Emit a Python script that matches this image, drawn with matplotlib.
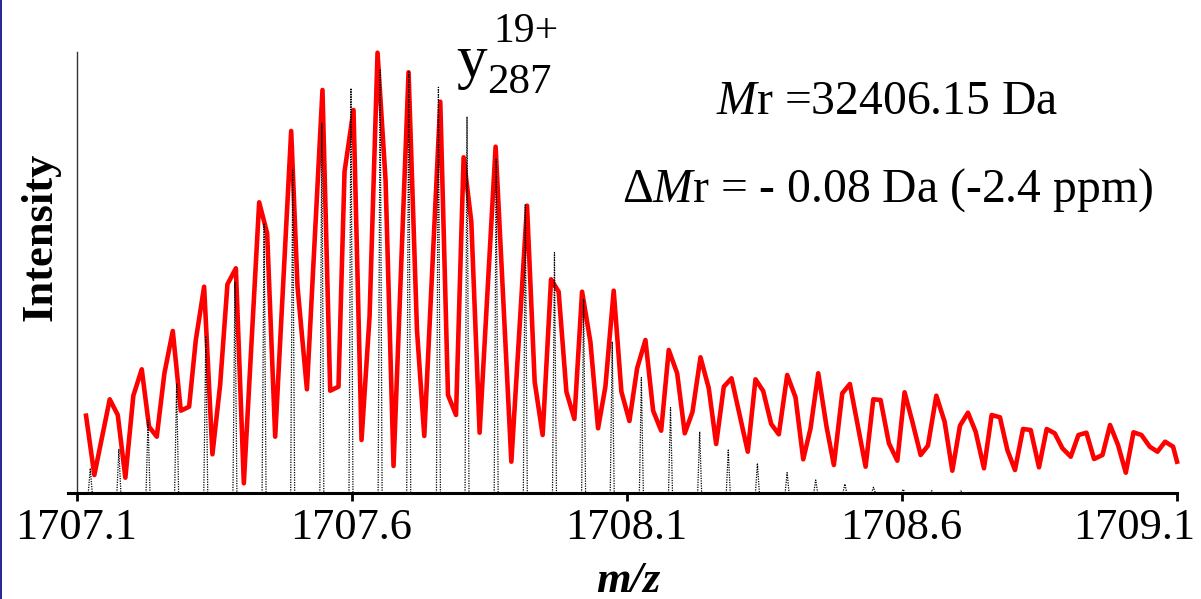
import matplotlib
matplotlib.use('Agg')
import matplotlib.pyplot as plt
from matplotlib.lines import Line2D
import matplotlib.transforms as mtransforms

plt.rcParams['font.family'] = ['Liberation Serif', 'DejaVu Serif']
plt.rcParams['mathtext.fontset'] = 'custom'
plt.rcParams['mathtext.rm'] = 'Liberation Serif'
plt.rcParams['mathtext.it'] = 'Liberation Serif:italic'
plt.rcParams['mathtext.bf'] = 'Liberation Serif:bold'

# ---------------- data ----------------
exp_mz = [1707.1173, 1707.1324, 1707.1604, 1707.1750, 1707.1888, 1707.2033, 1707.2186,
          1707.2319, 1707.2459, 1707.2598, 1707.2750, 1707.2896, 1707.3047, 1707.3169,
          1707.3320, 1707.3471, 1707.3611, 1707.3744, 1707.3897, 1707.4042, 1707.4321,
          1707.4466, 1707.4612, 1707.4903, 1707.5018, 1707.5189, 1707.5472, 1707.5612,
          1707.5763, 1707.5873, 1707.6036, 1707.6182, 1707.6328, 1707.6473, 1707.6619,
          1707.6764, 1707.7037, 1707.7190, 1707.7323, 1707.7614, 1707.7754, 1707.7900,
          1707.8038, 1707.8178, 1707.8329, 1707.8620, 1707.8906, 1707.9191, 1707.9330,
          1707.9475, 1707.9628, 1707.9766, 1707.9907, 1708.0052, 1708.0192, 1708.0343,
          1708.0483, 1708.0616, 1708.0767, 1708.0907, 1708.1053, 1708.1193, 1708.1344,
          1708.1484, 1708.1630, 1708.1768, 1708.1921, 1708.2059, 1708.2199, 1708.2345,
          1708.2496, 1708.2630, 1708.2769, 1708.2909, 1708.3205, 1708.3345, 1708.3485,
          1708.3631, 1708.3769, 1708.3922, 1708.4073, 1708.4213, 1708.4346, 1708.4486,
          1708.4637, 1708.4770, 1708.4923, 1708.5061, 1708.5347, 1708.5487, 1708.5620,
          1708.5771, 1708.5924, 1708.6056, 1708.6197, 1708.6348, 1708.6480, 1708.6633,
          1708.6784, 1708.6924, 1708.7063, 1708.7208, 1708.7348, 1708.7499, 1708.7639,
          1708.7790, 1708.7925, 1708.8063, 1708.8209, 1708.8349, 1708.8500, 1708.8640,
          1708.8786, 1708.8926, 1708.9077, 1708.9217, 1708.9362, 1708.9501, 1708.9654,
          1708.9792, 1708.9937, 1709.0078, 1709.0218, 1709.0363, 1709.0514, 1709.0654,
          1709.0793, 1709.0938, 1709.1010]
exp_int = [77.3, 18.0, 93.7, 78.0, 15.3, 97.3, 123.7,
           66.3, 56.3, 119.7, 162.0, 82.3, 86.3, 153.0,
           206.3, 38.7, 108.0, 208.7, 224.7, 9.7, 290.7,
           259.7, 56.3, 362.0, 206.3, 103.7, 403.0, 102.3,
           106.3, 321.3, 383.0, 53.0, 176.3, 440.3, 313.0,
           27.0, 420.7, 163.0, 57.0, 391.3, 98.0, 78.0,
           335.7, 271.3, 60.3, 346.3, 31.3, 287.3, 111.3,
           58.0, 213.7, 201.3, 101.3, 74.0, 201.3, 151.3,
           64.7, 106.3, 202.3, 101.3, 72.0, 124.7, 153.0,
           82.3, 62.3, 143.0, 119.7, 59.7, 81.0, 135.7,
           104.7, 49.0, 106.3, 114.7, 41.3, 113.7, 102.0,
           69.0, 58.7, 118.0, 95.7, 33.7, 64.7, 119.7,
           66.3, 28.0, 99.7, 109.0, 26.3, 93.7, 93.0,
           49.7, 32.3, 100.7, 71.3, 38.0, 47.3, 97.3,
           71.3, 22.3, 67.3, 80.3, 61.3, 24.7, 78.0,
           75.7, 43.0, 23.0, 64.0, 63.0, 25.7, 64.0,
           59.7, 44.7, 36.3, 58.0, 60.3, 34.0, 38.0,
           68.0, 48.0, 20.3, 60.7, 58.0, 46.3, 41.3,
           51.3, 46.3, 31.3]

theo_mz = [1707.125, 1707.177, 1707.230, 1707.282, 1707.335, 1707.388, 1707.441,
           1707.493, 1707.546, 1707.599, 1707.652, 1707.704, 1707.758, 1707.810,
           1707.863, 1707.916, 1707.969, 1708.022, 1708.074, 1708.127, 1708.180,
           1708.233, 1708.285, 1708.338, 1708.392, 1708.444, 1708.497, 1708.549,
           1708.603, 1708.655, 1708.708]
theo_int = [24.7, 43.7, 73.0, 109.7, 157.0, 211.3, 269.7,
            323.0, 370.0, 404.7, 423.0, 422.0, 405.7, 376.3,
            334.7, 289.0, 240.3, 193.7, 151.3, 115.3, 85.3,
            61.3, 43.0, 29.7, 20.3, 13.0, 9.0, 5.7,
            3.7, 2.3, 2.0]

tick_values = [1707.1, 1707.6, 1708.1, 1708.6, 1709.1]
tick_labels = ['1707.1', '1707.6', '1708.1', '1708.6', '1709.1']

# ---------------- figure ----------------
W, H = 1201, 599
fig = plt.figure(figsize=(W / 100, H / 100), dpi=100)
fig.patch.set_facecolor('white')

ax_left, ax_right, ax_bottom, ax_top = 68, 1176.5, 493, 52
ax = fig.add_axes([ax_left / W, 1 - ax_bottom / H,
                   (ax_right - ax_left) / W, (ax_bottom - ax_top) / H])
ax.set_xlim(1707.0845, 1709.1)
ax.set_ylim(0, 441)

# theoretical isotope peaks (dotted, narrow profiles)
hw = 0.0036
for m, h in zip(theo_mz, theo_int):
    ax.plot([m - hw, m, m + hw], [0, h, 0], color='black', lw=0.9,
            linestyle=(0, (1, 1)), zorder=3)

# experimental spectrum
ax.plot(exp_mz, exp_int, color='#ff0000', lw=3.3, zorder=2, clip_on=False)

# y axis line at 1707.1
ax.plot([tick_values[0], tick_values[0]], [0, 441], color='#333333', lw=1.0,
        zorder=1, clip_on=False)

for s in ['left', 'right', 'top']:
    ax.spines[s].set_visible(False)
ax.spines['bottom'].set_linewidth(2.2)
ax.spines['bottom'].set_color('black')
ax.spines['bottom'].set_zorder(4)

ax.set_yticks([])
ax.set_xticks(tick_values)
ax.set_xticklabels(tick_labels)
ax.tick_params(axis='x', direction='out', length=5.8, width=2.0, color='black',
               labelsize=32, pad=5)

# last tick label is pulled inside the figure, as in the reference
last = ax.get_xticklabels()[-1]
last.set_horizontalalignment('right')
last.set_transform(last.get_transform() +
                   mtransforms.ScaledTranslation(0.185, 0, fig.dpi_scale_trans))

# axis labels
fig.text(628 / W, 1 - 592 / H, 'm/z', fontsize=32, fontweight='bold',
         fontstyle='italic', ha='center', va='baseline')
fig.text(40 / W, 1 - 237 / H, 'Intensity', fontsize=32, fontweight='bold',
         rotation=90, ha='center', va='center')

# ion annotation
fig.text(456 / W, 1 - 77 / H, 'y', fontsize=44, ha='left', va='baseline')
fig.text(487 / W, 1 - 93 / H, '287', fontsize=31, ha='left', va='baseline')
fig.text(493 / W, 1 - 41.5 / H, '19+', fontsize=30, ha='left', va='baseline')

# mass annotations
fig.text(716 / W, 1 - 114 / H, r'$\mathit{M}$r =32406.15 Da', fontsize=34.3,
         ha='left', va='baseline')
fig.text(622 / W, 1 - 201.5 / H, r'Δ$\mathit{M}$r = - 0.08 Da (-2.4 ppm)',
         fontsize=34.3, ha='left', va='baseline')

# navy left border
fig.add_artist(Line2D([0.6 / W, 0.6 / W], [0, 1], transform=fig.transFigure,
                      color='#000080', lw=1.2))

fig.savefig('out.png', dpi=100)
